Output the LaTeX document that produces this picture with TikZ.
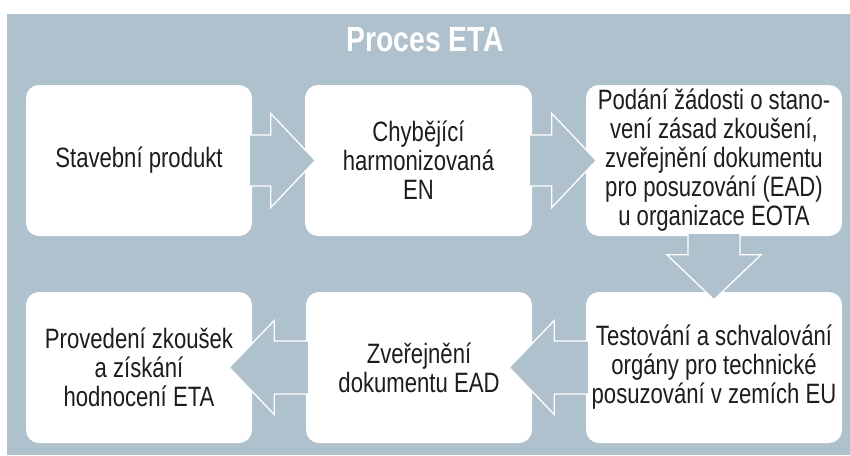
\documentclass[tikz,border=0pt]{standalone}
\usepackage{fontspec}
\newfontfamily\condfont{Liberation Sans}[FakeStretch=0.79]
\newfontfamily\titlefont{Liberation Sans}[FakeStretch=0.81]
\usetikzlibrary{calc}
\definecolor{bgblue}{RGB}{175,193,205}
\definecolor{txtdark}{RGB}{30,28,29}
\tikzset{
  stepbox/.style={draw=none, fill=white, rounded corners=13pt, inner sep=0pt,
    minimum height=151pt, align=center, text=txtdark,
    font=\condfont\fontsize{28}{29}\selectfont},
  fatarrow/.style={fill=bgblue, draw=white, line width=1.3pt, line join=miter},
  titletext/.style={text=white, inner sep=0pt, font=\titlefont\bfseries\fontsize{35}{40}\selectfont}
}
\newcommand\arrowRight[2]{%
  \filldraw[fatarrow] let \p1=(#1.east), \p2=(#2.west) in
    (\x1-2,\y1+25.5) -- (\x2-34,\y1+25.5) -- (\x2-34,\y1+47) -- (\x2+10.5,\y1)
    -- (\x2-34,\y1-47) -- (\x2-34,\y1-25.5) -- (\x1-2,\y1-25.5);
}
\newcommand\arrowLeft[2]{%
  \filldraw[fatarrow] let \p1=(#1.west), \p2=(#2.east) in
    (\x1+2,\y1+26.5) -- (\x2+22,\y1+26.5) -- (\x2+22,\y1+47) -- (\x2-23,\y1)
    -- (\x2+22,\y1-47) -- (\x2+22,\y1-26.5) -- (\x1+2,\y1-26.5);
}
\newcommand\arrowDown[2]{%
  \filldraw[fatarrow] let \p1=(#1.south), \p2=(#2.north) in
    (\x1-26,\y1+2) -- (\x1-26,\y2+37) -- (\x1-47,\y2+37) -- (\x1,\y2-8)
    -- (\x1+47,\y2+37) -- (\x1+26,\y2+37) -- (\x1+26,\y1+2);
}
\begin{document}
\begin{tikzpicture}[x=1pt,y=-1pt]
\useasboundingbox (0,0) rectangle (850,455);
\fill[bgblue] (7,14) rectangle (850,455);
\node[titletext] (title) at (425,40) {Proces ETA};

\node[stepbox, minimum width=226pt] (b1) at (139,160.5) {Stavební produkt};
\node[stepbox, minimum width=227pt] (b2) at (418.5,160.5) {Chybějící\\harmonizovaná\\EN};
\node[stepbox, minimum width=256pt] (b3) at (714,160.5) {Podání žádosti o stano-\\vení zásad zkoušení,\\zveřejnění dokumentu\\pro posuzování (EAD)\\u organizace EOTA};
\node[stepbox, minimum width=226pt] (b4) at (139,367.5) {Provedení zkoušek\\a získání\\hodnocení ETA};
\node[stepbox, minimum width=226pt] (b5) at (419,367.5) {Zveřejnění\\dokumentu EAD};
\node[stepbox, minimum width=256pt] (b6) at (714,367.5) {Testování a schvalování\\orgány pro technické\\posuzování v zemích EU};

\arrowRight{b1}{b2}
\arrowRight{b2}{b3}
\arrowDown{b3}{b6}
\arrowLeft{b6}{b5}
\arrowLeft{b5}{b4}
\end{tikzpicture}
\end{document}
